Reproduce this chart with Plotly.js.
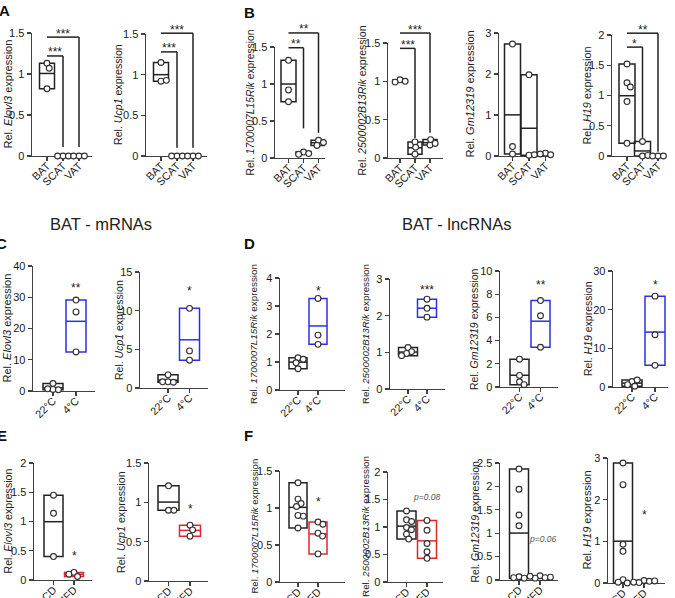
<!DOCTYPE html>
<html>
<head>
<meta charset="utf-8">
<script src="https://cdn.plot.ly/plotly-3.0.1.min.js"></script>
<style>
  html, body { margin: 0; padding: 0; background: #fff; }
  #chart { width: 675px; height: 598px; }
</style>
</head>
<body>
<div id="chart"></div>
<script>
// ---------- category labels ----------
const tissues = ['BAT', 'SCAT', 'VAT'];
const temps = ['22°C', '4°C'];
const diets = ['CD', 'HFD'];

// ---------- relative expression per animal (one array per group) ----------
// tissue distribution (BAT, SCAT, VAT)
const elovl3Tissue = [[1.13, 1.07, 0.82], [0, 0, 0], [0, 0, 0]];
const ucp1Tissue = [[1.15, 0.92, 0.93], [0, 0, 0], [0, 0, 0]];
const rik1700Tissue = [[1.32, 0.92, 0.76], [0.08, 0.06, 0.05], [0.24, 0.21, 0.17]];
const rik2500Tissue = [[1.02, 1.0, 0.99], [0.05, 0.21, 0.14], [0.17, 0.24, 0.19]];
const gm12319Tissue = [[2.73, 0.23, 0.05], [1.98, 0.02, 0.03], [0.07, 0.03, 0.05]];
const h19Tissue = [[1.52, 1.21, 1.14, 0.9, 0.21], [0.24, 0.0, 0.01], [0, 0, 0]];

// cold exposure (22°C vs 4°C)
const elovl3Cold = [[0.5, 2.4, 0.4, 0.7], [29.1, 25.3, 12.5]];
const ucp1Cold = [[1.7, 0.8, 0.75, 0.8], [10.3, 4.8, 3.6]];
const rik1700Cold = [[1.15, 1.1, 0.97, 0.76], [3.27, 1.96, 1.63]];
const rik2500Cold = [[1.13, 1.02, 0.97, 0.91], [2.45, 2.2, 1.96]];
const gm12319Cold = [[2.4, 1.0, 0.45, 0.2], [7.45, 6.14, 3.43]];
const h19Cold = [[1.4, 1.8, 0.2, 0.6], [23.5, 13.5, 5.6]];

// diet (CD vs HFD)
const elovl3Diet = [[1.45, 1.14, 0.4], [0.13, 0.06, 0.1]];
const ucp1Diet = [[1.21, 0.9, 0.9], [0.71, 0.65, 0.57]];
const rik1700Diet = [[1.34, 1.12, 1.06, 1.02, 0.9, 0.89, 0.73], [0.81, 0.78, 0.66, 0.62, 0.38]];
const rik2500Diet = [[1.29, 1.13, 1.1, 0.99, 0.95, 0.87, 0.78], [1.12, 0.94, 0.7, 0.55, 0.43]];
const gm12319Diet = [[2.37, 1.94, 1.39, 1.16, 0.07, 0.04, 0.05], [0.09, 0.05, 0.04, 0.08, 0.06]];
const h19Diet = [[2.88, 2.36, 0.93, 0.76, 0.08, 0.0, 0.02], [0.06, 0.04, 0.01, 0.02, 0.05]];

// ---------- significance labels ----------
const elovl3TissueSig = ['***', '***'];
const ucp1TissueSig = ['***', '***'];
const rik1700TissueSig = ['**', '**'];
const rik2500TissueSig = ['***', '***'];
const h19TissueSig = ['*', '**'];
const coldSig = ['**', '*', '*', '***', '**', '*'];
const dietSig = ['*', '*', '*', 'p=0.08', 'p=0.06', '*'];

// ---------- style ----------
const W = 675, H = 598;
const FONT = '"Liberation Sans", Arial, Helvetica, sans-serif';
const INK = '#222222';
const AXIS = '#404040';
const BLUE = '#2f2fe0';
const RED = '#e3262b';

// panel geometry (pixels): axis span, first category centre, category step, top tick, zero line
const panels = [
  { gene: 'Elovl3', labels: tissues, groups: elovl3Tissue, colors: [INK, INK, INK], yTicks: [0, 0.5, 1, 1.5],
    g: { x0: 32, x1: 92, c0: 47, step: 16, top: 33, zero: 156, box: 15, tx: 8, ts: 11 },
    brackets: [{ to: 1, y: 1.22, drop: 0.11 }, { to: 2, y: 1.45, drop: 0.11 }], bsig: elovl3TissueSig },
  { gene: 'Ucp1', labels: tissues, groups: ucp1Tissue, colors: [INK, INK, INK], yTicks: [0, 0.5, 1, 1.5],
    g: { x0: 146, x1: 207, c0: 161, step: 16, top: 34, zero: 156, box: 15, tx: 118, ts: 10.6 },
    brackets: [{ to: 1, y: 1.28, drop: 0.1 }, { to: 2, y: 1.51, drop: 0.1 }], bsig: ucp1TissueSig },
  { gene: '1700007L15Rik', labels: tissues, groups: rik1700Tissue, colors: [INK, INK, INK], yTicks: [0, 0.5, 1, 1.5],
    g: { x0: 275, x1: 325, c0: 288.5, step: 15, top: 47, zero: 158, box: 15, tx: 250, ts: 10.3 },
    brackets: [{ to: 1, y: 1.49, drop: 0.4 }, { to: 2, y: 1.69, drop: 0.34 }], bsig: rik1700TissueSig },
  { gene: '2500002B13Rik', labels: tissues, groups: rik2500Tissue, colors: [INK, INK, INK], yTicks: [0, 0.5, 1, 1.5],
    g: { x0: 388, x1: 443, c0: 400, step: 15, top: 43, zero: 158, box: 14, tx: 362, ts: 10.5 },
    brackets: [{ to: 1, y: 1.43, drop: 0.26 }, { to: 2, y: 1.63, drop: 0.33 }], bsig: rik2500TissueSig },
  { gene: 'Gm12319', labels: tissues, groups: gm12319Tissue, colors: [INK, INK, INK], yTicks: [0, 1, 2, 3],
    g: { x0: 499, x1: 552, c0: 512.5, step: 16.5, top: 33, zero: 156, box: 16, tx: 470, ts: 11 },
    brackets: [], bsig: [] },
  { gene: 'H19', labels: tissues, groups: h19Tissue, colors: [INK, INK, INK], yTicks: [0, 0.5, 1, 1.5, 2],
    g: { x0: 612, x1: 667, c0: 627, step: 15.5, top: 35, zero: 156, box: 16, tx: 586, ts: 10.9 },
    brackets: [{ to: 1, y: 1.8, drop: 0.3 }, { to: 2, y: 2.03, drop: 0.07 }], bsig: h19TissueSig },

  { gene: 'Elovl3', labels: temps, groups: elovl3Cold, colors: [INK, BLUE], yTicks: [0, 10, 20, 30, 40],
    g: { x0: 33, x1: 95, c0: 53, step: 23, top: 266, zero: 391, box: 20, tx: 6, ts: 11 },
    mark: { x: 1, y: 33.6 }, msig: coldSig[0] },
  { gene: 'Ucp1', labels: temps, groups: ucp1Cold, colors: [INK, BLUE], yTicks: [0, 5, 10, 15],
    g: { x0: 140, x1: 208, c0: 168, step: 21.5, top: 272, zero: 388, box: 20, tx: 119, ts: 10.5 },
    mark: { x: 1, y: 12.9 }, msig: coldSig[1] },
  { gene: '1700007L15Rik', labels: temps, groups: rik1700Cold, colors: [INK, BLUE], yTicks: [0, 1, 2, 3, 4],
    g: { x0: 280, x1: 345, c0: 298, step: 20, top: 278, zero: 390, box: 18, tx: 253, ts: 9.9 },
    mark: { x: 1, y: 3.64 }, msig: coldSig[2] },
  { gene: '2500002B13Rik', labels: temps, groups: rik2500Cold, colors: [INK, BLUE], yTicks: [0, 1, 2, 3],
    g: { x0: 390, x1: 445, c0: 408, step: 19, top: 279, zero: 389, box: 19, tx: 365, ts: 9.8 },
    mark: { x: 1, y: 2.76 }, msig: coldSig[3] },
  { gene: 'Gm12319', labels: temps, groups: gm12319Cold, colors: [INK, BLUE], yTicks: [0, 2, 4, 6, 8, 10],
    g: { x0: 500, x1: 558, c0: 519.5, step: 21, top: 271, zero: 387, box: 19, tx: 474, ts: 10.5 },
    mark: { x: 1, y: 9.05 }, msig: coldSig[4] },
  { gene: 'H19', labels: temps, groups: h19Cold, colors: [INK, BLUE], yTicks: [0, 10, 20, 30],
    g: { x0: 613, x1: 668, c0: 632, step: 23, top: 271, zero: 387, box: 20, tx: 588, ts: 10.5 },
    mark: { x: 1, y: 27 }, msig: coldSig[5] },

  { gene: 'Elovl3', labels: diets, groups: elovl3Diet, colors: [INK, RED], yTicks: [0, 0.5, 1, 1.5, 2],
    g: { x0: 34, x1: 92, c0: 53.5, step: 20.5, top: 463, zero: 580, box: 19, tx: 7, ts: 10.6 },
    mark: { x: 1, y: 0.46 }, msig: dietSig[0] },
  { gene: 'Ucp1', labels: diets, groups: ucp1Diet, colors: [INK, RED], yTicks: [0, 0.5, 1, 1.5],
    g: { x0: 149, x1: 208, c0: 168.5, step: 21.5, top: 463, zero: 581, box: 21, tx: 121, ts: 10.7 },
    mark: { x: 1, y: 0.95 }, msig: dietSig[1] },
  { gene: '1700007L15Rik', labels: diets, groups: rik1700Diet, colors: [INK, RED], yTicks: [0, 0.5, 1, 1.5],
    g: { x0: 280, x1: 345, c0: 298, step: 20, top: 471, zero: 582, box: 18, tx: 254, ts: 9.5 },
    mark: { x: 1, y: 1.11 }, msig: dietSig[2] },
  { gene: '2500002B13Rik', labels: diets, groups: rik2500Diet, colors: [INK, RED], yTicks: [0, 0.5, 1, 1.5, 2],
    g: { x0: 388, x1: 443, c0: 406.5, step: 20.5, top: 472, zero: 582, box: 19, tx: 365, ts: 9.9 },
    mark: { x: 1, y: 1.54 }, msig: dietSig[3] },
  { gene: 'Gm12319', labels: diets, groups: gm12319Diet, colors: [INK, RED], yTicks: [0, 0.5, 1, 1.5, 2, 2.5],
    g: { x0: 500, x1: 558, c0: 519, step: 21, top: 463, zero: 580, box: 19, tx: 474, ts: 10.5 },
    mark: { x: 1.12, y: 0.87 }, msig: dietSig[4] },
  { gene: 'H19', labels: diets, groups: h19Diet, colors: [INK, RED], yTicks: [0, 1, 2, 3],
    g: { x0: 608, x1: 665, c0: 623, step: 21, top: 458, zero: 583, box: 19, tx: 586, ts: 11 },
    mark: { x: 1, y: 1.69 }, msig: dietSig[5] }
];

// horizontal spread of points that would overlap (simple beeswarm, pixel space)
function swarm(vals, g, ymax) {
  const D = 5.4;
  const k = (g.zero - g.top) / ymax;
  const placed = [];
  return vals.map(v => {
    const y = v * k;
    const cands = [0];
    placed.forEach(p => {
      const dy = Math.abs(p.y - y);
      if (dy < D) {
        const dx = Math.sqrt(D * D - dy * dy);
        cands.push(p.x + dx, p.x - dx);
      }
    });
    cands.sort((a, b) => Math.abs(a) - Math.abs(b));
    const x = cands.find(c => placed.every(p => Math.hypot(p.x - c, p.y - y) >= D - 1e-6));
    placed.push({ x: x, y: y });
    return x / g.step;
  });
}

const layout = {
  width: W, height: H,
  margin: { l: 0, r: 0, t: 0, b: 0 },
  paper_bgcolor: '#ffffff', plot_bgcolor: 'rgba(0,0,0,0)',
  showlegend: false,
  font: { family: FONT, color: INK },
  shapes: [], annotations: []
};
const traces = [];

panels.forEach((p, n) => {
  const k = n + 1;
  const xa = k === 1 ? 'x' : 'x' + k;
  const ya = k === 1 ? 'y' : 'y' + k;
  const g = p.g;
  const ymax = p.yTicks[p.yTicks.length - 1];
  const xr = [(g.x0 - g.c0) / g.step, (g.x1 - g.c0) / g.step];
  const idx = p.labels.map((_, i) => i);

  const common = {
    showline: true, linecolor: AXIS, linewidth: 1.4,
    ticks: 'outside', ticklen: 4, tickwidth: 1.3, tickcolor: AXIS,
    showgrid: false, zeroline: false, fixedrange: true, layer: 'below traces'
  };
  layout[xa.replace('x', 'xaxis')] = Object.assign({}, common, {
    domain: [g.x0 / W, g.x1 / W], range: xr, anchor: ya,
    tickmode: 'array', tickvals: idx, ticktext: p.labels, tickangle: -45,
    ticklabelstandoff: -6,
    tickfont: { family: FONT, size: 10.8, color: '#1a1a1a' }
  });
  layout[ya.replace('y', 'yaxis')] = Object.assign({}, common, {
    domain: [1 - g.zero / H, 1 - g.top / H], range: [0, ymax], anchor: xa,
    tickmode: 'array', tickvals: p.yTicks,
    tickfont: { family: FONT, size: 11, color: '#1a1a1a' }
  });

  // min–max box with mean line
  const mins = p.groups.map(a => Math.min.apply(null, a));
  const maxs = p.groups.map(a => Math.max.apply(null, a));
  const means = p.groups.map(a => a.reduce((s, v) => s + v, 0) / a.length);
  const w = g.box / g.step;
  traces.push({
    type: 'bar', xaxis: xa, yaxis: ya, x: idx, base: mins,
    y: maxs.map((m, i) => m - mins[i]), width: w,
    marker: { color: 'rgba(0,0,0,0)', line: { color: p.colors, width: 1.5 } },
    hoverinfo: 'skip'
  });
  p.groups.forEach((a, i) => {
    traces.push({
      type: 'scatter', mode: 'lines', xaxis: xa, yaxis: ya,
      x: [i - w / 2, i + w / 2], y: [means[i], means[i]],
      line: { color: p.colors[i], width: 1.5 }, hoverinfo: 'skip', cliponaxis: false
    });
  });

  // individual animals
  const px = [], py = [];
  p.groups.forEach((a, i) => {
    const off = swarm(a, g, ymax);
    a.forEach((v, j) => { px.push(i + off[j]); py.push(v); });
  });
  traces.push({
    type: 'scatter', mode: 'markers', xaxis: xa, yaxis: ya, x: px, y: py, cliponaxis: false,
    marker: { size: 5.8, color: '#ffffff', line: { color: '#333333', width: 1.15 } },
    hoverinfo: 'skip'
  });

  // y-axis title
  layout.annotations.push({
    xref: 'paper', yref: 'paper', x: g.tx / W, y: 1 - (g.top + g.zero) / 2 / H,
    text: 'Rel. <i>' + p.gene + '</i> expression', textangle: -90, showarrow: false,
    xanchor: 'center', yanchor: 'middle', font: { family: FONT, size: g.ts, color: INK }
  });

  // positions relative to this subplot's domain
  const fx = i => (i - xr[0]) / (xr[1] - xr[0]);
  const fy = v => v / ymax;
  const xd = xa + ' domain', yd = ya + ' domain';

  (p.brackets || []).forEach((b, j) => {
    const ln = { color: INK, width: 1.5 };
    layout.shapes.push({ type: 'line', xref: xd, yref: yd, x0: fx(0), x1: fx(b.to), y0: fy(b.y), y1: fy(b.y), line: ln });
    layout.shapes.push({ type: 'line', xref: xd, yref: yd, x0: fx(b.to), x1: fx(b.to), y0: fy(b.y), y1: fy(b.drop), line: ln });
    layout.annotations.push({
      xref: xd, yref: yd, x: fx(b.to / 2), y: fy(b.y), text: p.bsig[j], showarrow: false,
      xanchor: 'center', yanchor: 'middle', yshift: 3.5, font: { family: FONT, size: 12, color: INK }
    });
  });

  if (p.mark) {
    const isP = p.msig.indexOf('p=') === 0;
    layout.annotations.push({
      xref: xd, yref: yd, x: fx(p.mark.x), y: fy(p.mark.y),
      text: isP ? '<i>' + p.msig + '</i>' : p.msig, showarrow: false,
      xanchor: 'center', yanchor: 'middle', yshift: isP ? 0 : -2.5,
      font: { family: FONT, size: isP ? 8.5 : 12, color: isP ? '#555555' : INK }
    });
  }
});

// panel letters and row headings
const letters = [['A', -3, 11], ['B', 242, 13], ['C', -6, 244], ['D', 242, 244], ['E', -5, 435], ['F', 242, 435]];
letters.forEach(l => layout.annotations.push({
  xref: 'paper', yref: 'paper', x: l[1] / W, y: 1 - l[2] / H, text: '<b>' + l[0] + '</b>',
  showarrow: false, xanchor: 'left', yanchor: 'middle', font: { family: FONT, size: 15, color: '#111' }
}));
[['BAT - mRNAs', 101], ['BAT - lncRNAs', 457]].forEach(t => layout.annotations.push({
  xref: 'paper', yref: 'paper', x: t[1] / W, y: 1 - 224 / H, text: t[0],
  showarrow: false, xanchor: 'center', yanchor: 'middle', font: { family: FONT, size: 16.5, color: INK }
}));

Plotly.newPlot('chart', traces, layout, { staticPlot: true, displayModeBar: false });
</script>
</body>
</html>
